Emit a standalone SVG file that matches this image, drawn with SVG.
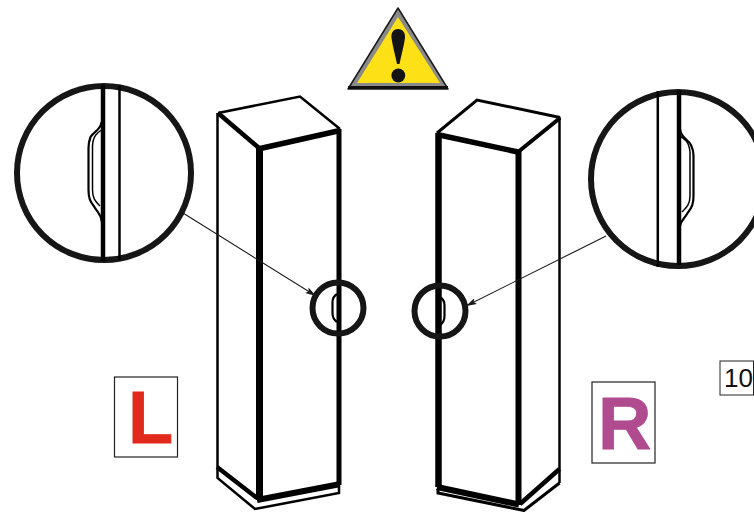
<svg xmlns="http://www.w3.org/2000/svg" width="754" height="512" viewBox="0 0 754 512">
<defs>
<style>
.k{fill:none;stroke:#000;stroke-linejoin:miter;stroke-linecap:butt}
.ring{fill:none;stroke:#161616;stroke-width:6}
.lead{fill:none;stroke:#1a1a1a;stroke-width:1.100}
.box{fill:#fff;stroke:#222;stroke-width:1.200}
.big{font-family:"Liberation Sans",Arial,sans-serif;font-weight:700;font-size:74px;stroke-width:0.800}
</style>
<marker id="ah" viewBox="0 0 10 6" refX="10" refY="3" markerWidth="11" markerHeight="6.500" markerUnits="userSpaceOnUse" orient="auto"><path d="M0 0L10 3L0 6L2 3Z" fill="#1a1a1a"/></marker>
</defs>
<rect width="754" height="512" fill="#fff"/>
<g id="warning">
<path d="M398 8L448 89H348Z" fill="#8a8a8a" stroke="#1a1a1a" stroke-width="1.500" stroke-linejoin="round"/>
<path d="M348 87.500H448" stroke="#111" stroke-width="3"/>
<path d="M398 17L440 83H357Z" fill="#fde015"/>
<path d="M398 29C393 29 391 33 391.500 38C392.500 46 395.500 56 397 64H399.500C401 56 404 46 405 38C405.500 33 403 29 398 29Z" fill="#141414"/>
<ellipse cx="398.300" cy="75.500" rx="6.900" ry="6.900" fill="#141414"/>
</g>
<g id="cabinet-left">
<path class="k" stroke-width="2.500" d="M218 113L300 96.500L340 129"/>
<path class="k" stroke-width="4.500" d="M218 113L259 148"/>
<path class="k" stroke-width="5.500" d="M258 149L340 130.500"/>
<path class="k" stroke-width="2.500" d="M217.500 113V478L255 509L339 493V484"/>
<path class="k" stroke-width="7" d="M259.500 148V500"/>
<path class="k" stroke-width="5" d="M339 129V485"/>
<path class="k" stroke-width="4.500" d="M217 467L257 498"/>
<path class="k" stroke-width="6" d="M257 500L338 484.500"/>
</g>
<g id="cabinet-right">
<path class="k" stroke-width="3" d="M437 133L477 100L560 117.500"/>
<path class="k" stroke-width="5.500" d="M437 134.500L518 152"/>
<path class="k" stroke-width="4" d="M518 152L560 118"/>
<path class="k" stroke-width="6.500" d="M438.500 133V487"/>
<path class="k" stroke-width="6" d="M518.500 150V505"/>
<path class="k" stroke-width="2.500" d="M559.500 117V483"/>
<path class="k" stroke-width="6" d="M437 487L519 504.500"/>
<path class="k" stroke-width="4.500" d="M520 504L559.500 469"/>
<path class="k" stroke-width="3" d="M438 489V493L524 510.500L559.500 483"/>
</g>
<g id="detail-left">
<circle class="ring" cx="104" cy="173" r="87"/>
<path class="k" stroke-width="4.500" d="M103 85V261"/>
<path class="k" stroke-width="2.500" d="M119.500 85V260"/>
<path class="k" stroke-width="2.200" d="M101.500 122C101 130 94 131 90.500 137C89 141 88.500 143 88.500 148V190C88.500 200 91 202 95 208C98 213 101 214 102 222"/>
<path class="k" stroke-width="1.500" d="M101.500 130C97 133 93 136 92.500 146V190C92.500 198 95 201 100 206"/>
</g>
<g id="detail-right">
<circle class="ring" cx="678" cy="179" r="87"/>
<path class="k" stroke-width="2.500" d="M657.800 91V267"/>
<path class="k" stroke-width="4.500" d="M679 91V265"/>
<path class="k" stroke-width="2.200" d="M680 129C681 138 688 139 691 145C693 149 693.500 151 693.500 156V196C693.500 206 691 208 687 214C684 219 681 220 680 226"/>
<path class="k" stroke-width="1.500" d="M680 136C685 139 689 142 690 152V196C690 204 687 207 682 212"/>
</g>
<g id="marker-left">
<circle class="ring" cx="338" cy="308" r="25.500"/>
<path class="k" stroke-width="2.200" d="M337 294C334 296 332.500 298 332.500 302V313C332.500 318 334 320 337 322"/>
</g>
<g id="marker-right">
<circle class="ring" cx="440" cy="311" r="25.500"/>
<path class="k" stroke-width="2.200" d="M440 297C443 299 444.500 301 444.500 305V316C444.500 321 443 323 440 325"/>
</g>
<g id="label-l">
<rect class="box" x="114.500" y="377" width="63" height="80"/>
<text class="big" x="128" y="443" fill="#e1291c" stroke="#e1291c">L</text>
</g>
<g id="label-r">
<rect class="box" x="592" y="382" width="63" height="81"/>
<text class="big" x="598" y="449" fill="#b04b90" stroke="#b04b90">R</text>
</g>
<g id="page-number">
<rect x="720" y="361" width="33.500" height="34" fill="#fff" stroke="#222" stroke-width="1"/>
<text x="724" y="387" font-family="'Liberation Sans',Arial,sans-serif" font-size="26" fill="#111">10</text>
</g>
<g id="connectors">
<path class="lead" marker-end="url(#ah)" d="M183 213L316 296"/>
<path class="lead" marker-end="url(#ah)" d="M606 236L466 306"/>
</g>
</svg>
